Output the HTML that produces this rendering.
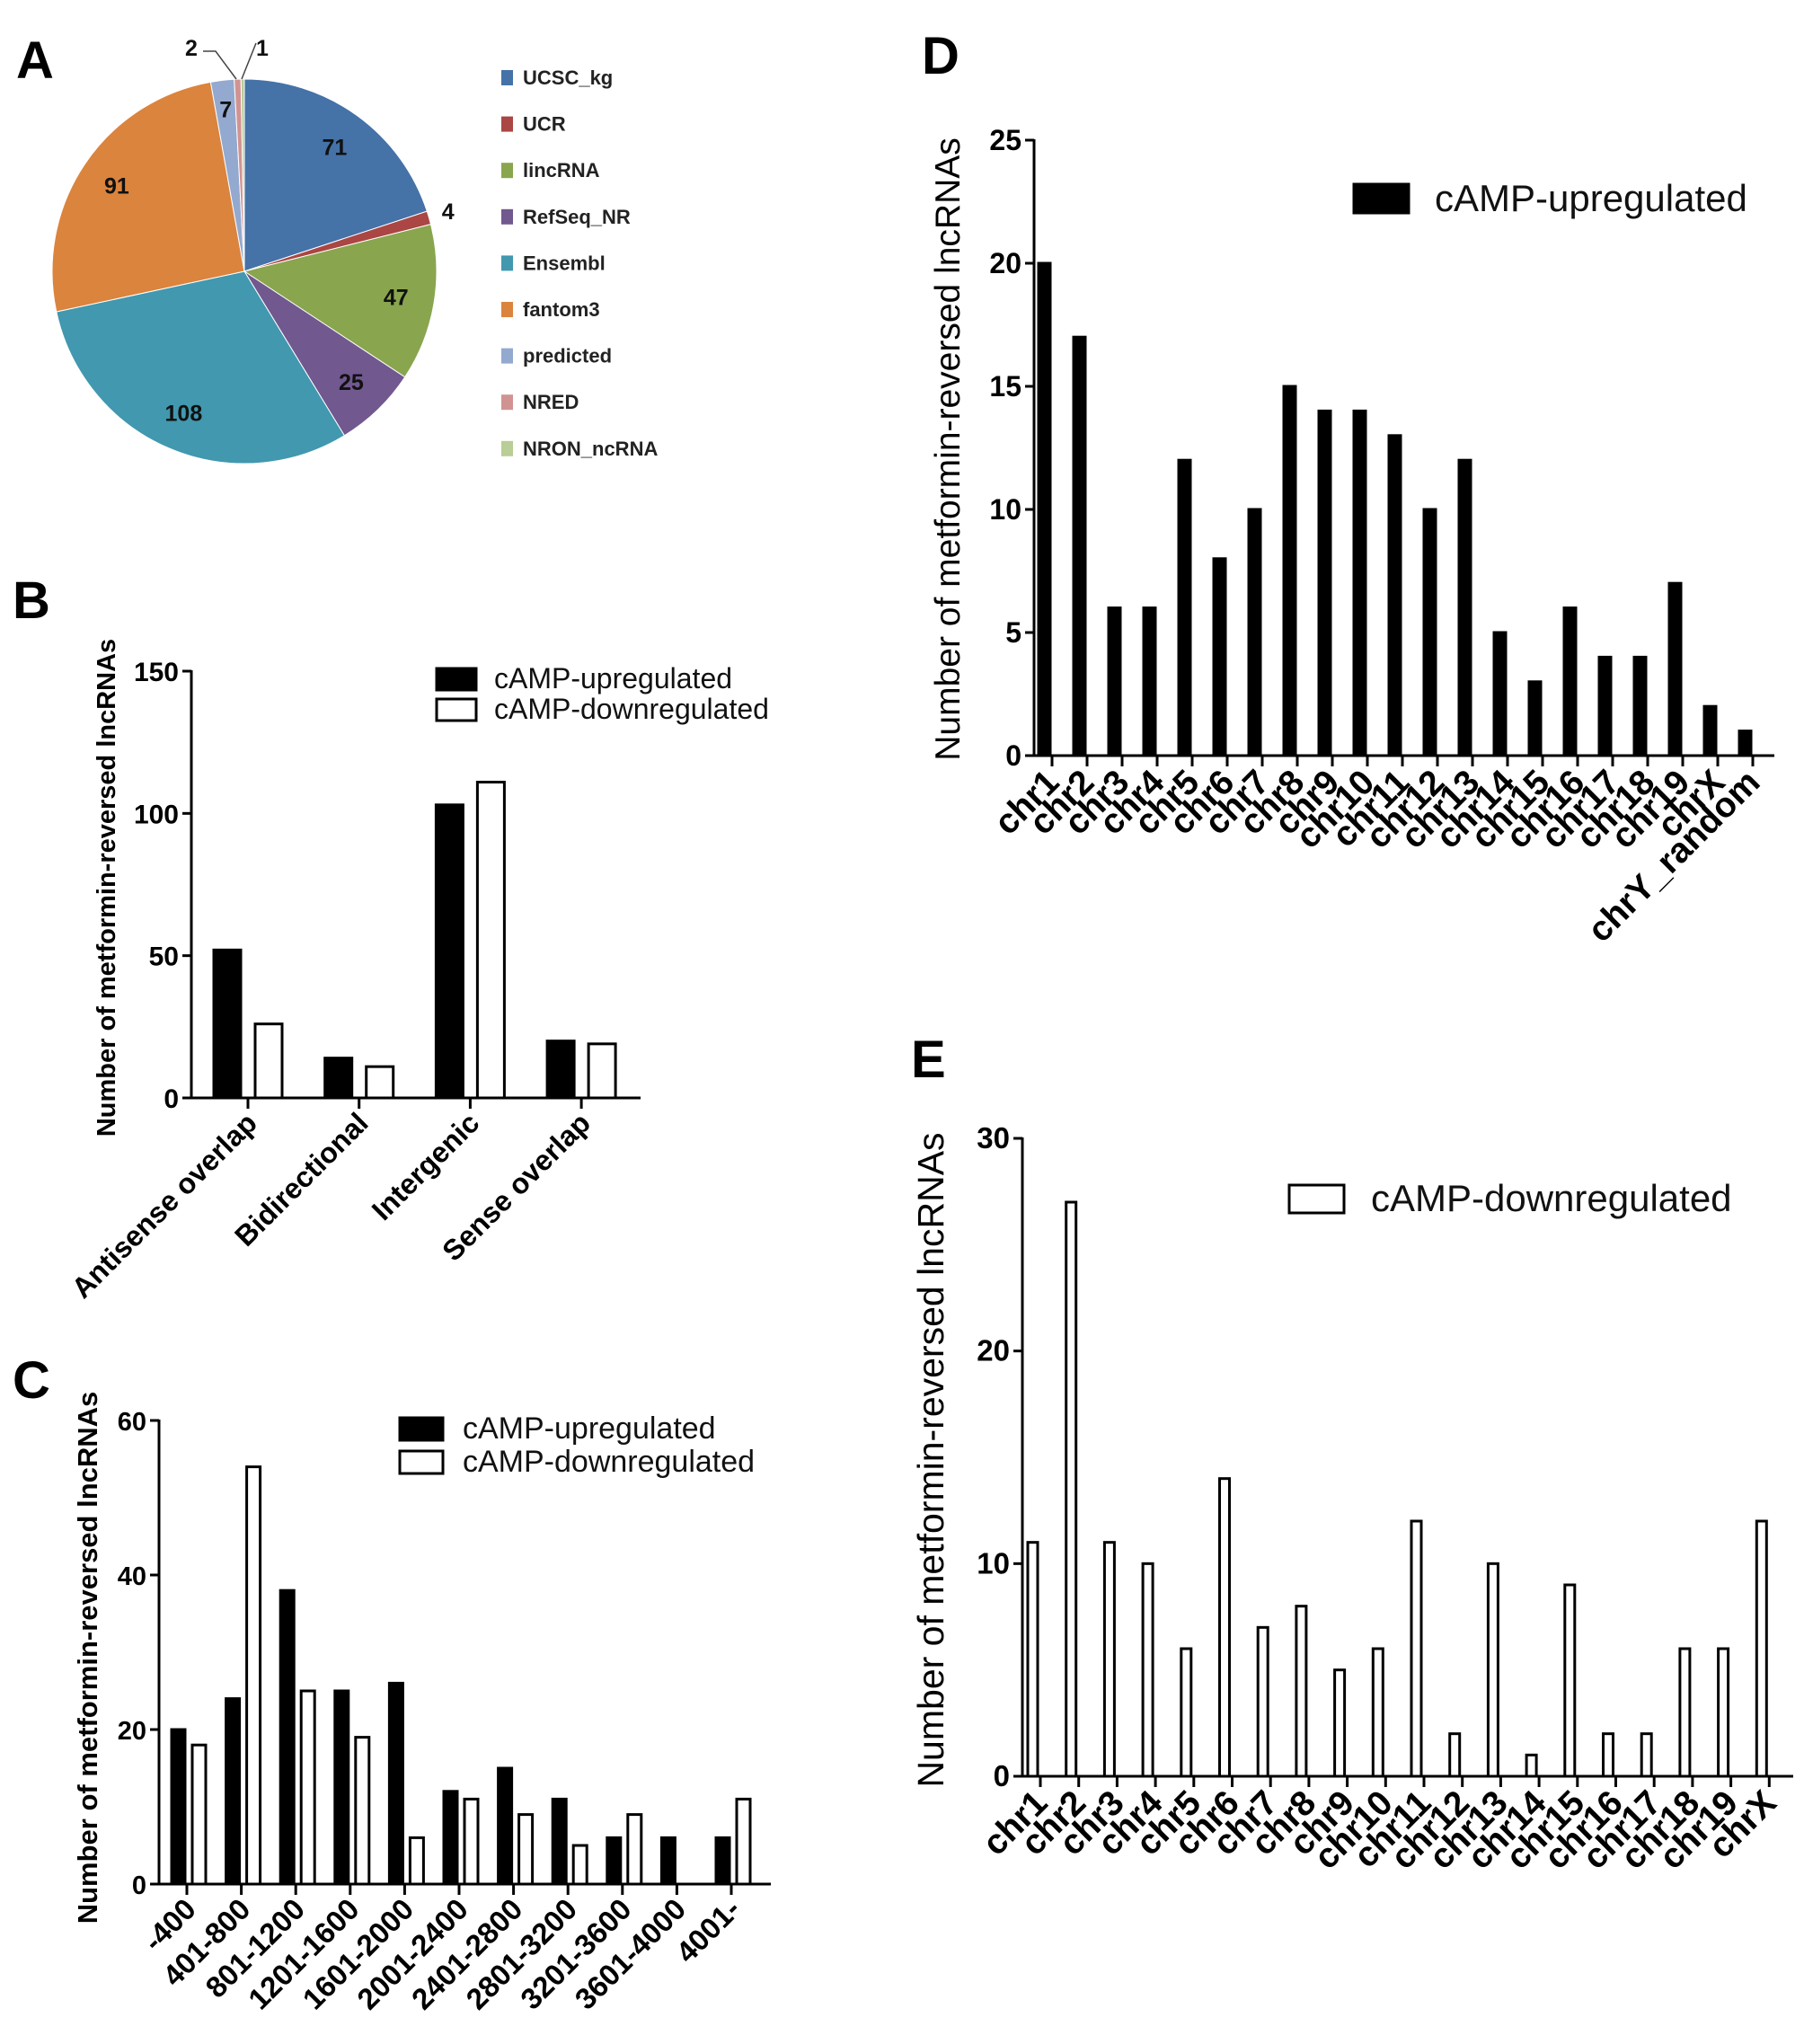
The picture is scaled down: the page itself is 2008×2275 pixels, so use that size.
<!DOCTYPE html>
<html><head><meta charset="utf-8">
<style>
html,body{margin:0;padding:0;background:#fff;}
svg{display:block;}
text{font-family:"Liberation Sans",Arial,sans-serif;}
.pl{font-family:"Liberation Sans Narrow","Liberation Sans",sans-serif;font-weight:bold;}
</style></head>
<body>
<svg id="fig" width="2008" height="2275" viewBox="0 0 2008 2275" xmlns="http://www.w3.org/2000/svg">
<rect width="2008" height="2275" fill="#fff"/>
<g id="pA"></g>
<g id="pB"></g>
<g id="pC"></g>
<g id="pD"></g>
<g id="pE"></g>
</svg>
<script>
// ---- Panel A data ----
const pieLabels = ["UCSC_kg","UCR","lincRNA","RefSeq_NR","Ensembl","fantom3","predicted","NRED","NRON_ncRNA"];
const pieValues = [71,4,47,25,108,91,7,2,1];
const pieColors = ["#4572A7","#AA4643","#89A54E","#71588F","#4198AF","#DB843D","#93A9CF","#D19392","#B9CD96"];
// ---- Panel B data ----
const bCats = ["Antisense overlap","Bidirectional","Intergenic","Sense overlap"];
const bUp = [52,14,103,20];
const bDown = [26,11,111,19];
const bTicks = [0,50,100,150];
// ---- Panel C data ----
const cCats = ["-400","401-800","801-1200","1201-1600","1601-2000","2001-2400","2401-2800","2801-3200","3201-3600","3601-4000","4001-"];
const cUp = [20,24,38,25,26,12,15,11,6,6,6];
const cDown = [18,54,25,19,6,11,9,5,9,0,11];
const cTicks = [0,20,40,60];
// ---- Panel D data ----
const dCats = ["chr1","chr2","chr3","chr4","chr5","chr6","chr7","chr8","chr9","chr10","chr11","chr12","chr13","chr14","chr15","chr16","chr17","chr18","chr19","chrX","chrY_random"];
const dUp = [20,17,6,6,12,8,10,15,14,14,13,10,12,5,3,6,4,4,7,2,1];
const dTicks = [0,5,10,15,20,25];
// ---- Panel E data ----
const eCats = ["chr1","chr2","chr3","chr4","chr5","chr6","chr7","chr8","chr9","chr10","chr11","chr12","chr13","chr14","chr15","chr16","chr17","chr18","chr19","chrX"];
const eDown = [11,27,11,10,6,14,7,8,5,6,12,2,10,1,9,2,2,6,6,12];
const eTicks = [0,10,20,30];

const NS="http://www.w3.org/2000/svg";
function mk(parent,tag,attrs,txt){const e=document.createElementNS(NS,tag);for(const k in attrs)e.setAttribute(k,attrs[k]);if(txt!==undefined)e.textContent=txt;parent.appendChild(e);return e;}

// ---------- Panel A ----------
(function(){
  const g=document.getElementById('pA');
  let t=mk(g,'text',{x:18,y:87,'font-size':58,'font-weight':'bold'},'A');
  
  
  const cx=272,cy=302,r=214;
  const total=pieValues.reduce((a,b)=>a+b,0);
  let a0=-Math.PI/2;
  const labPos=[];
  pieValues.forEach((v,i)=>{
    const a1=a0+v/total*2*Math.PI;
    const large=(a1-a0)>Math.PI?1:0;
    const p=mk(g,'path',{d:`M${cx},${cy} L${cx+r*Math.cos(a0)},${cy+r*Math.sin(a0)} A${r},${r} 0 ${large} 1 ${cx+r*Math.cos(a1)},${cy+r*Math.sin(a1)} Z`,fill:pieColors[i],stroke:'#fff','stroke-width':1});
    
    
    labPos.push((a0+a1)/2);
    a0=a1;
  });
  pieValues.forEach((v,i)=>{
    const am=labPos[i];
    let x,y;
    if(v>=20){x=cx+r*0.8*Math.cos(am);y=cy+r*0.8*Math.sin(am)+9;}
    else if(v>=5){x=cx+r*0.85*Math.cos(am);y=cy+r*0.85*Math.sin(am)+9;}
    else if(v===4){x=cx+(r+22)*Math.cos(am);y=cy+(r+22)*Math.sin(am)+8;}
    else if(v===2){x=213;y=62;}
    else {x=292;y=62;}
    const lt=mk(g,'text',{x:x,y:y,'font-size':25,'text-anchor':'middle',class:'pl',fill:'#111'},String(v));
    
    
  });
  const l1=mk(g,'polyline',{points:'226,57 240,57 263,88',fill:'none',stroke:'#444','stroke-width':1.5});
  
  
  const l2=mk(g,'polyline',{points:'285,48 269,88',fill:'none',stroke:'#444','stroke-width':1.5});
  
  
  pieLabels.forEach((lab,i)=>{
    const y=87+i*51.6;
    const sq=mk(g,'rect',{x:558,y:y-9,width:13,height:17,fill:pieColors[i]});
    
    
    const tx=mk(g,'text',{x:582,y:y+7,'font-size':22,class:'pl',fill:'#222'},lab);
    
    
  });
})();

// ---------- generic bar chart ----------
function barChart(o){
  const g=document.getElementById(o.id);
  let t=mk(g,'text',{x:o.letter[0],y:o.letter[1],'font-size':58,'font-weight':'bold'},o.letterText);
  
  
  const ymax=o.ticks[o.ticks.length-1];
  const Y=v=>o.y0-(v/ymax)*(o.y0-o.yTop);
  const X=i=>o.x0c+i*o.step;
  const ya=mk(g,'line',{x1:o.ax,y1:o.yTop-1,x2:o.ax,y2:o.y0+1.5,stroke:'#000','stroke-width':3});
  
  
  const xa=mk(g,'line',{x1:o.ax-1.5,y1:o.y0,x2:o.xEnd,y2:o.y0,stroke:'#000','stroke-width':3});
  
  
  o.ticks.forEach(v=>{
    const tk=mk(g,'line',{x1:o.ax-10,y1:Y(v),x2:o.ax,y2:Y(v),stroke:'#000','stroke-width':3});
    
    
    const tl=mk(g,'text',{x:o.ax-14,y:Y(v)+11,'font-size':o.tickFs,'font-weight':'bold','text-anchor':'end'},String(v));
    
    
  });
  const yt=mk(g,'text',{x:0,y:0,'font-size':o.ytFs,'font-weight':o.ytBold?'bold':'normal','text-anchor':'middle',transform:`translate(${o.ytX},${o.ytY}) rotate(-90)`},'Number of metformin-reversed lncRNAs');
  
  
  o.cats.forEach((c,i)=>{
    const cx=X(i);
    const tk=mk(g,'line',{x1:cx,y1:o.y0,x2:cx,y2:o.y0+12,stroke:'#000','stroke-width':3});
    
    
    o.series.forEach(s=>{
      const v=s.vals[i];
      if(v<=0)return;
      const bx=cx+s.off;
      const b=mk(g,'rect',{x:bx,y:Y(v),width:s.w,height:o.y0-Y(v),fill:s.fill,stroke:'#000','stroke-width':3});
      
      
    });
    const lx=cx+o.labDx, ly=o.y0+o.labDy;
    const cl=mk(g,'text',{x:0,y:0,'font-size':o.catFs,'font-weight':'bold','text-anchor':'end',transform:`translate(${lx},${ly}) rotate(-45)`},c);
    
    
  });
  o.legend.forEach(L=>{
    const r=mk(g,'rect',{x:L.x,y:L.y,width:L.w,height:L.h,fill:L.fill,stroke:'#000','stroke-width':3});
    
    
    const tx=mk(g,'text',{x:L.tx,y:L.y+L.h-2,'font-size':L.fs,fill:'#111'},L.text);
    
    
  });
}

barChart({id:'pB',letterText:'B',letter:[14,688],ticks:bTicks,cats:bCats,
  ax:213,yTop:747,y0:1222,xEnd:713,x0c:276,step:123.7,tickFs:30,ytFs:29,ytBold:true,ytX:128,ytY:988,
  catFs:32,labDx:12,labDy:30,
  series:[{vals:bUp,off:-38,w:30,fill:'#000',name:'bar-upregulated'},{vals:bDown,off:8,w:30,fill:'#fff',name:'bar-downregulated'}],
  legend:[{x:486,y:744,w:44,h:24,fill:'#000',tx:550,fs:32,text:'cAMP-upregulated'},{x:486,y:778,w:44,h:24,fill:'#fff',tx:550,fs:32,text:'cAMP-downregulated'}]});

barChart({id:'pC',letterText:'C',letter:[14,1556],ticks:cTicks,cats:cCats,
  ax:177,yTop:1581,y0:2097,xEnd:858,x0c:208,step:60.6,tickFs:29,ytFs:31,ytBold:true,ytX:108,ytY:1845,
  catFs:33,labDx:12,labDy:30,
  series:[{vals:cUp,off:-17,w:15,fill:'#000',name:'bar-upregulated'},{vals:cDown,off:6,w:15,fill:'#fff',name:'bar-downregulated'}],
  legend:[{x:445,y:1578,w:48,h:25,fill:'#000',tx:515,fs:34,text:'cAMP-upregulated'},{x:445,y:1615,w:48,h:25,fill:'#fff',tx:515,fs:34,text:'cAMP-downregulated'}]});

barChart({id:'pD',letterText:'D',letter:[1026,82],ticks:dTicks,cats:dCats,
  ax:1151,yTop:156,y0:841,xEnd:1975,x0c:1171,step:39,tickFs:32,ytFs:39,ytBold:false,ytX:1068,ytY:500,
  catFs:39,labDx:10,labDy:32,
  series:[{vals:dUp,off:-15,w:13,fill:'#000',name:'bar-upregulated'}],
  legend:[{x:1507,y:205,w:61,h:32,fill:'#000',tx:1597,fs:42,text:'cAMP-upregulated'}]});

barChart({id:'pE',letterText:'E',letter:[1014,1199],ticks:eTicks,cats:eCats,
  ax:1138,yTop:1267,y0:1977,xEnd:1996,x0c:1158,step:42.7,tickFs:33,ytFs:41,ytBold:false,ytX:1050,ytY:1625,
  catFs:39,labDx:10,labDy:32,
  series:[{vals:eDown,off:-14,w:11,fill:'#fff',name:'bar-downregulated'}],
  legend:[{x:1435,y:1319,w:61,h:31,fill:'#fff',tx:1526,fs:42,text:'cAMP-downregulated'}]});
</script>
</body></html>
